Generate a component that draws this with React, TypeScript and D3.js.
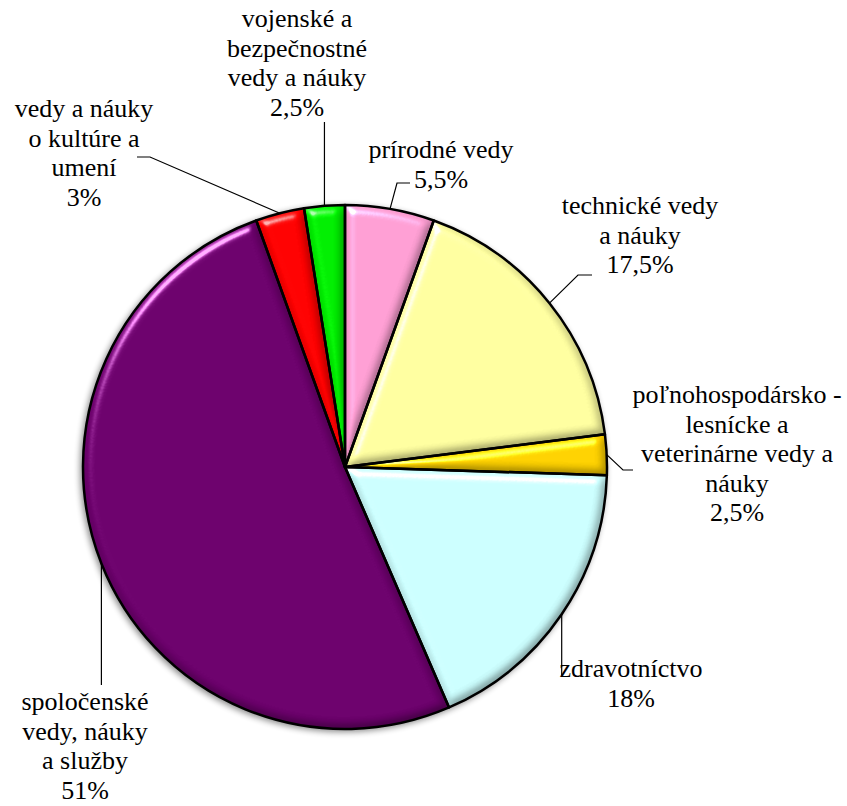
import { useMemo } from 'react';
import * as d3 from 'd3';

// slices clockwise from 12 o'clock
const categories = [
  'prírodné vedy',
  'technické vedy a náuky',
  'poľnohospodársko - lesnícke a veterinárne vedy a náuky',
  'zdravotníctvo',
  'spoločenské vedy, náuky a služby',
  'vedy a náuky o kultúre a umení',
  'vojenské a bezpečnostné vedy a náuky',
];
const shares = [5.5, 17.5, 2.5, 18, 51, 3, 2.5];
const colors = ['#ff9fd4', '#ffffa0', '#ffd200', '#ccffff', '#6c006c', '#ff0000', '#00ee00'];
const labelLines = [
  ['prírodné vedy'],
  ['technické vedy', 'a náuky'],
  ['poľnohospodársko -', 'lesnícke a', 'veterinárne vedy a', 'náuky'],
  ['zdravotníctvo'],
  ['spoločenské', 'vedy, náuky', 'a služby'],
  ['vedy a náuky', 'o kultúre a', 'umení'],
  ['vojenské a', 'bezpečnostné', 'vedy a náuky'],
];

const W = 847;
const H = 806;
const cx = 345;
const cy = 467;
const R = 262;
const lineH = 29.5;
const serif = '"Liberation Serif"';

// label anchor (centre x, first baseline) and leader elbows, per slice
type Pt = [number, number];
const labelLayout: { x: number; y: number; leader: (e: Pt) => Pt[] }[] = [
  { x: 441, y: 158, leader: (e) => [e, [397, 183], [410, 183]] },
  { x: 640, y: 214, leader: (e) => [e, [578, 275], [592, 275]] },
  { x: 737, y: 403, leader: (e) => [e, [623, 470], [633, 470]] },
  { x: 631, y: 677, leader: (e) => [e, [e[0], 675]] },
  { x: 85, y: 710, leader: (e) => [e, [e[0], 685]] },
  { x: 84, y: 117, leader: (e) => [e, [150, 157], [137, 157]] },
  { x: 297, y: 27, leader: (e) => [e, [e[0], 122]] },
];

const fmtPct = (v: number) => d3.format('.1~f')(v).replace('.', ',') + '%';

export default function App() {
  const arcs = useMemo(
    () =>
      d3
        .pie<number>()
        .sort(null)
        .value((d) => d)(shares),
    []
  );
  const arc = d3.arc<d3.PieArcDatum<number>>().innerRadius(0).outerRadius(R);
  const edgeArc = d3.arc<d3.PieArcDatum<number>>().innerRadius(R).outerRadius(R);
  const line = d3.line();

  return (
    <svg width={W} height={H} style={{ position: 'absolute', left: 0, top: 0, background: '#fff' }}>
      <defs>
        <filter id="bevel" x="-10%" y="-10%" width="120%" height="120%" colorInterpolationFilters="sRGB">
          <feGaussianBlur in="SourceAlpha" stdDeviation="5" result="blur" />
          <feSpecularLighting
            in="blur"
            surfaceScale="7"
            specularConstant="1.3"
            specularExponent="30"
            lightingColor="#ffffff"
            result="spec"
          >
            <feDistantLight azimuth="235" elevation="30" />
          </feSpecularLighting>
          <feComposite in="spec" in2="SourceAlpha" operator="in" result="specIn" />
          <feDiffuseLighting in="blur" surfaceScale="7" diffuseConstant="1" lightingColor="#ffffff" result="diff">
            <feDistantLight azimuth="235" elevation="60" />
          </feDiffuseLighting>
          <feComposite in="SourceGraphic" in2="diff" operator="arithmetic" k1="0.45" k2="0.6" k3="0" k4="0" result="shaded" />
          <feComposite in="shaded" in2="specIn" operator="arithmetic" k1="0" k2="1" k3="0.7" k4="0" result="lit" />
          <feComposite in="lit" in2="SourceAlpha" operator="in" />
        </filter>
        <filter id="shadow" x="-10%" y="-10%" width="120%" height="120%">
          <feGaussianBlur stdDeviation="3" />
        </filter>
      </defs>

      <circle cx={cx - 2} cy={cy + 2} r={R + 1} fill="#000" opacity={0.45} filter="url(#shadow)" />

      <g transform={`translate(${cx},${cy})`}>
        {arcs.map((a, i) => (
          <path key={`f${i}`} d={arc(a) ?? ''} fill={colors[i]} filter="url(#bevel)" />
        ))}
        {arcs.map((a, i) => (
          <path
            key={`s${i}`}
            d={arc(a) ?? ''}
            fill="none"
            stroke="#000"
            strokeWidth={2.5}
            strokeLinejoin="round"
          />
        ))}
      </g>

      {arcs.map((a, i) => {
        const c = edgeArc.centroid(a);
        const e: Pt = [cx + c[0], cy + c[1]];
        const lay = labelLayout[i];
        return (
          <path key={`ld${i}`} d={line(lay.leader(e)) ?? ''} fill="none" stroke="#000" strokeWidth={1.2} />
        );
      })}
      {labelLines.flatMap((lines, i) =>
        [...lines, fmtPct(shares[i])].map((t, j) => (
          <text
            key={`t${i}-${j}`}
            x={labelLayout[i].x}
            y={labelLayout[i].y + j * lineH}
            textAnchor="middle"
            fontSize={26}
            fill="#000"
            style={{ fontFamily: serif }}
          >
            {t}
          </text>
        ))
      )}
      <title>{categories.join('; ')}</title>
    </svg>
  );
}
